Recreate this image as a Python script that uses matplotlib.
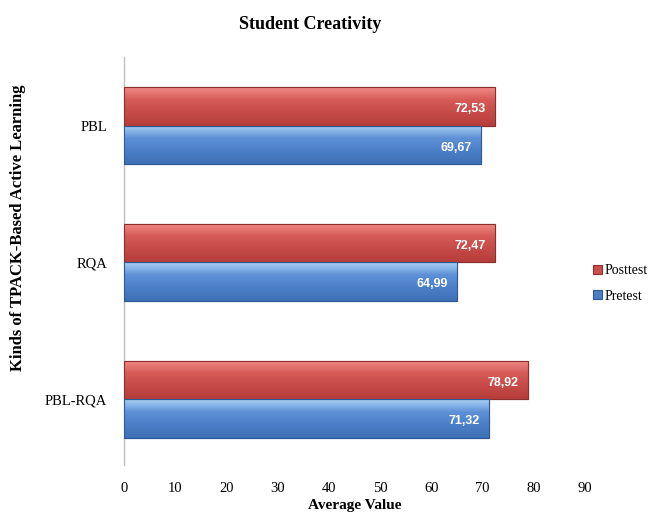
import matplotlib
matplotlib.use("Agg")
import matplotlib.pyplot as plt
import numpy as np
from matplotlib.colors import LinearSegmentedColormap

categories = ["PBL", "RQA", "PBL-RQA"]
posttest = [72.53, 72.47, 78.92]
pretest = [69.67, 64.99, 71.32]
xticks = [0, 10, 20, 30, 40, 50, 60, 70, 80, 90]

serif = "Liberation Serif"
fig = plt.figure(figsize=(6.49, 5.15), dpi=100)
ax = fig.add_axes([0.191, 0.097, 0.710, 0.792])

y = np.arange(len(categories))
h = 0.28
red, blue = "#C9504D", "#4A7FC8"
bp = ax.barh(y - h / 2, posttest, height=h, color=red, edgecolor="#8E2F2C", linewidth=0.8, label="Posttest", zorder=3)
bq = ax.barh(y + h / 2, pretest, height=h, color=blue, edgecolor="#2D5A96", linewidth=0.8, label="Pretest", zorder=3)

cm_red = LinearSegmentedColormap.from_list("r", ["#F08A86", "#D65A56", "#C64A47", "#B53E3B"])
cm_blue = LinearSegmentedColormap.from_list("b", ["#A9D0F5", "#5D90D6", "#4A7FC8", "#3F70B5"])
grad = np.linspace(0, 1, 64).reshape(-1, 1)
for bars, cmap in ((bp, cm_red), (bq, cm_blue)):
    for b in bars:
        x0, y0, w, hh = b.get_x(), b.get_y(), b.get_width(), b.get_height()
        im = ax.imshow(grad, cmap=cmap, aspect="auto", extent=(x0, x0 + w, y0 + hh, y0),
                       origin="upper", zorder=3.5, interpolation="bilinear")
        im.set_clip_path(b)
        ax.barh(y0 + hh / 2, w, height=hh, left=x0, facecolor="none", edgecolor=b.get_edgecolor(),
                linewidth=0.8, zorder=4)

for vals, yy in ((posttest, y - h / 2), (pretest, y + h / 2)):
    for v, yi in zip(vals, yy):
        ax.text(v - 1.8, yi + 0.02, f"{v:.2f}".replace(".", ","), ha="right", va="center",
                color="white", fontsize=9, fontweight="bold", family="Liberation Sans", zorder=5)

ax.set_xlim(0, 90)
ax.set_ylim(2.48, -0.5)
ax.set_xticks(xticks)
ax.set_xticklabels([str(t) for t in xticks], family=serif, fontsize=10.5)
ax.set_yticks(y)
ax.set_yticklabels(categories, family=serif, fontsize=10.5)
ax.tick_params(axis="x", length=0, pad=12)
ax.tick_params(axis="y", length=0, pad=12)
for s in ("top", "right", "bottom"):
    ax.spines[s].set_visible(False)
ax.spines["left"].set_color("#BFBFBF")
ax.spines["left"].set_linewidth(1.0)

ax.set_xlabel("Average Value", family=serif, fontsize=11, fontweight="bold", labelpad=3)
fig.text(0.027, 0.557, "Kinds of TPACK-Based Active Learning", rotation=90, ha="center", va="center",
         family=serif, fontsize=12, fontweight="bold")
fig.text(0.478, 0.952, "Student Creativity", ha="center", va="center", family=serif, fontsize=13, fontweight="bold")

leg = fig.legend(handles=[bp, bq], labels=["Posttest", "Pretest"], loc="center left",
                 bbox_to_anchor=(0.895, 0.45), frameon=False, prop={"family": serif, "size": 10},
                 handlelength=0.6, handleheight=0.6, handletextpad=0.2, labelspacing=0.9)

fig.savefig("out.png", dpi=100)
